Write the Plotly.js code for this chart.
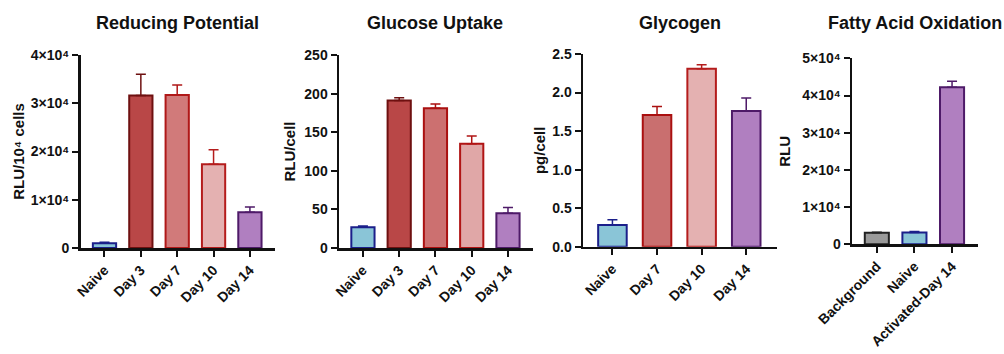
<!DOCTYPE html>
<html>
<head>
<meta charset="utf-8">
<script src="https://cdn.plot.ly/plotly-3.0.1.min.js"></script>
<style>html,body{margin:0;padding:0;background:#fff;}#chart{width:1004px;height:354px;}</style>
</head>
<body>
<div id="chart"></div>
<script>
// ---- Data ----
const titles = ["Reducing Potential", "Glucose Uptake", "Glycogen", "Fatty Acid Oxidation"];
const yTitles = ["RLU/10⁴ cells", "RLU/cell", "pg/cell", "RLU"];

const redCats = ["Naive", "Day 3", "Day 7", "Day 10", "Day 14"];
const redVals = [1000, 31600, 31700, 17350, 7400];
const redErr = [200, 4400, 2100, 3000, 1100];

const gluCats = ["Naive", "Day 3", "Day 7", "Day 10", "Day 14"];
const gluVals = [27, 191, 181, 135, 45];
const gluErr = [1.5, 3.5, 5.5, 10, 7.5];

const glyCats = ["Naive", "Day 7", "Day 10", "Day 14"];
const glyVals = [0.28, 1.71, 2.31, 1.76];
const glyErr = [0.07, 0.11, 0.05, 0.17];

const faoCats = ["Background", "Naive", "Activated-Day 14"];
const faoVals = [3100, 3200, 42200];
const faoErr = [150, 250, 1600];

const expTicks = [0, 10000, 20000, 30000, 40000, 50000];
const expTickText = ["0", "1×10⁴", "2×10⁴", "3×10⁴", "4×10⁴", "5×10⁴"];

// ---- Styles ----
const S = {
  naive: {fill: "#8ac5d7", line: "#1b1f8a"},
  d3: {fill: "#b94747", line: "#6e1010"},
  d7: {fill: "#d17a7a", line: "#b01818"},
  d10: {fill: "#e4b1b1", line: "#b41c1c"},
  d14: {fill: "#b07fc0", line: "#4e1a68"},
  bg: {fill: "#9a9a9a", line: "#222222"}
};
const panelStyles = [
  [S.naive, S.d3, S.d7, S.d10, S.d14],
  [S.naive, S.d3, {fill:"#cc7070", line:"#aa1010"}, {fill:"#e0a7a7", line:"#b01414"}, S.d14],
  [S.naive, {fill:"#c96f6f", line:"#aa1010"}, S.d10, S.d14],
  [S.bg, S.naive, S.d14]
];
const panels = [
  {cats: redCats, vals: redVals, err: redErr},
  {cats: gluCats, vals: gluVals, err: gluErr},
  {cats: glyCats, vals: glyVals, err: glyErr},
  {cats: faoCats, vals: faoVals, err: faoErr}
];
const W = 1004, H = 354;
const xPix = [[80.5, 275], [339, 533], [583, 777], [852, 978]];
const yPix = [[55, 248], [55, 248], [54, 246.7], [58.3, 244.3]];
const standoffs = [3, 5, 3, 8];

const traces = [];
const layout = {
  width: W, height: H,
  margin: {l: 0, r: 0, t: 0, b: 0},
  paper_bgcolor: "#fff", plot_bgcolor: "#fff",
  showlegend: false,
  barmode: "overlay",
  font: {family: "Liberation Sans, Arial, sans-serif", color: "#111"},
  annotations: []
};

panels.forEach((p, i) => {
  const ax = i === 0 ? "" : String(i + 1);
  p.cats.forEach((c, j) => {
    const st = panelStyles[i][j];
    traces.push({
      type: "bar",
      x: [c], y: [p.vals[j]],
      xaxis: "x" + ax, yaxis: "y" + ax,
      width: 0.64,
      marker: {color: st.fill, line: {color: st.line, width: 2}},
      error_y: {type: "data", array: [p.err[j]], arrayminus: [0], symmetric: false,
                color: st.line, thickness: 1.5, width: 5},
      hoverinfo: "x+y"
    });
  });
  const xa = {
    domain: [xPix[i][0] / W, xPix[i][1] / W],
    anchor: "y" + ax,
    type: "category",
    range: [-0.66, p.cats.length - 1 + 0.69],
    showline: true, linecolor: "#111", linewidth: 2.5,
    ticks: "outside", ticklen: 6, tickwidth: 2, tickcolor: "#111",
    tickangle: -45,
    tickfont: {size: 14, weight: "bold", color: "#111"},
    showgrid: false, zeroline: false, fixedrange: true
  };
  const ya = {
    domain: [1 - yPix[i][1] / H, 1 - yPix[i][0] / H],
    anchor: "x" + ax,
    showline: true, linecolor: "#111", linewidth: 2.5,
    ticks: "outside", ticklen: 6, tickwidth: 2, tickcolor: "#111",
    tickfont: {size: 14, weight: "bold", color: "#111"},
    showgrid: false, zeroline: false, fixedrange: true,
    title: {text: yTitles[i], font: {size: 15, weight: "bold", color: "#111"}, standoff: standoffs[i]}
  };
  if (i === 0 || i === 3) {
    ya.range = [0, i === 0 ? 40000 : 50000];
    ya.tickmode = "array";
    ya.tickvals = expTicks.slice(0, i === 0 ? 5 : 6);
    ya.ticktext = expTickText.slice(0, i === 0 ? 5 : 6);
  } else if (i === 1) {
    ya.range = [0, 250]; ya.dtick = 50; ya.tick0 = 0;
  } else {
    ya.range = [0, 2.5]; ya.dtick = 0.5; ya.tick0 = 0; ya.tickformat = ".1f";
  }
  layout["xaxis" + ax] = xa;
  layout["yaxis" + ax] = ya;
  const centers = [177, 435, 680, 915];
  layout.annotations.push({
    text: titles[i], xref: "paper", yref: "paper",
    x: centers[i] / W, y: 1 - 23 / H, xanchor: "center", yanchor: "middle",
    showarrow: false, font: {size: 18, weight: "bold", color: "#111"}
  });
});

Plotly.newPlot("chart", traces, layout, {displayModeBar: false, staticPlot: true});
</script>
</body>
</html>
